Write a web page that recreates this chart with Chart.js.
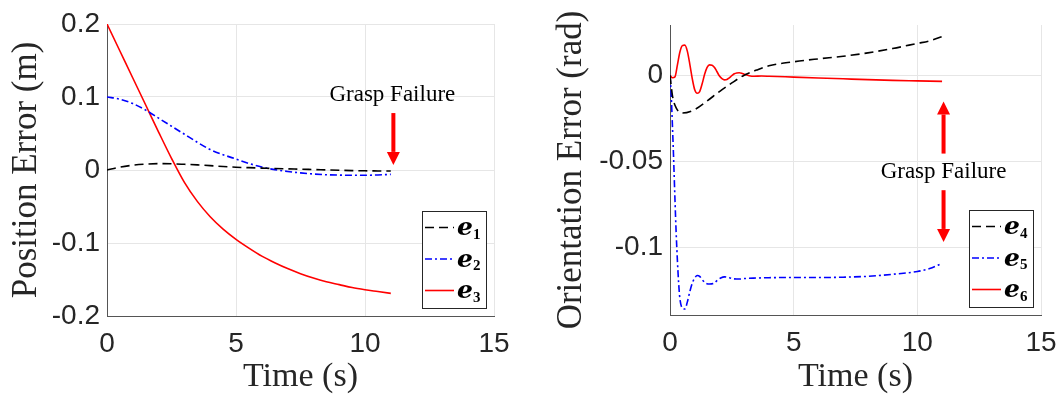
<!DOCTYPE html>
<html>
<head>
<meta charset="utf-8">
<script src="https://cdn.jsdelivr.net/npm/chart.js@4.4.0/dist/chart.umd.min.js"></script>
<style>
  body { margin: 0; background: #fff; overflow: hidden; }
  .panel { position: absolute; top: 0; width: 530px; height: 397px; }
</style>
</head>
<body>
<div class="panel" style="left:0"><canvas id="posChart" width="530" height="397"></canvas></div>
<div class="panel" style="left:530px"><canvas id="oriChart" width="530" height="397"></canvas></div>
<script>
// position errors (m)
const posTime = [0, 0.5, 1, 1.5, 2, 2.5, 3, 3.5, 4, 4.5, 5, 5.5, 6, 6.5, 7, 7.5, 8, 8.5, 9, 9.5, 10, 10.5, 11];
const e1 = [0, 0.004, 0.0065, 0.008, 0.0088, 0.0085, 0.0078, 0.007, 0.006, 0.0048, 0.0038, 0.0032, 0.0026, 0.002, 0.0015, 0.0011, 0.0006, 0.0001, -0.0004, -0.0008, -0.0011, -0.0013, -0.0014];
const e2 = [0.1, 0.097, 0.091, 0.082, 0.071, 0.06, 0.049, 0.038, 0.028, 0.021, 0.015, 0.009, 0.004, 0.0005, -0.002, -0.004, -0.0055, -0.0065, -0.007, -0.0072, -0.0072, -0.0068, -0.006];
const e3 = [0.2, 0.163, 0.126, 0.089, 0.052, 0.016, -0.017, -0.043, -0.064, -0.081, -0.095, -0.107, -0.118, -0.127, -0.135, -0.142, -0.148, -0.153, -0.157, -0.161, -0.164, -0.1665, -0.169];

// orientation errors (rad)
const e4Time = [0, 0.1, 0.25, 0.5, 1, 1.5, 2, 2.5, 3, 3.5, 4, 5, 6, 7, 8, 9, 10, 10.5, 11];
const e4 = [0, -0.012, -0.019, -0.022, -0.02, -0.015, -0.0095, -0.0045, 0, 0.003, 0.0055, 0.0078, 0.0095, 0.011, 0.013, 0.0155, 0.0185, 0.02, 0.0225];
const e5Time = [0, 0.05, 0.1, 0.15, 0.2, 0.25, 0.3, 0.35, 0.4, 0.5, 0.6, 0.7, 0.8, 0.9, 1.0, 1.1, 1.2, 1.3, 1.45, 1.6, 1.75, 1.9, 2.05, 2.2, 2.4, 2.6, 2.8, 3, 3.5, 4, 5, 6, 7, 8, 9, 10, 10.5, 11];
const e5 = [0, -0.012, -0.03, -0.05, -0.072, -0.092, -0.108, -0.121, -0.13, -0.1355, -0.136, -0.132, -0.126, -0.121, -0.118, -0.1165, -0.117, -0.119, -0.121, -0.1215, -0.1212, -0.1195, -0.118, -0.1173, -0.1178, -0.1185, -0.1186, -0.1183, -0.118, -0.1178, -0.1177, -0.1177, -0.1175, -0.117, -0.1158, -0.1142, -0.1125, -0.1095];
const e6Time = [0, 0.1, 0.2, 0.3, 0.4, 0.5, 0.6, 0.7, 0.8, 0.9, 1.0, 1.1, 1.2, 1.3, 1.4, 1.5, 1.6, 1.7, 1.8, 1.9, 2.0, 2.1, 2.2, 2.3, 2.4, 2.5, 2.6, 2.7, 2.8, 2.9, 3.0, 3.2, 3.4, 3.7, 4, 5, 6, 7, 8, 9, 10, 11];
const e6 = [0, -0.0015, -0.001, 0.006, 0.0135, 0.0172, 0.0175, 0.014, 0.0065, -0.002, -0.0085, -0.0105, -0.0095, -0.005, 0.0005, 0.0045, 0.006, 0.0058, 0.0045, 0.002, -0.0005, -0.002, -0.0027, -0.0025, -0.0015, -0.0003, 0.0008, 0.0013, 0.0014, 0.0011, 0.0005, -0.0003, -0.0006, -0.0005, -0.0006, -0.0011, -0.0016, -0.0021, -0.0026, -0.003, -0.0033, -0.0036];

const TEXT = '#262626';
const toPoints = (t, v) => t.map((x, i) => ({ x: x, y: v[i] }));

function series(sub, t, v, color, dash) {
  return {
    sub: sub,
    data: toPoints(t, v),
    borderColor: color,
    borderWidth: 1.6,
    borderDash: dash,
    pointRadius: 0,
    fill: false,
    cubicInterpolationMode: 'monotone'
  };
}

// legend with math-style labels e_i
const mathLegend = {
  id: 'mathLegend',
  afterDraw(chart) {
    const { ctx, chartArea } = chart;
    const w = 64, h = 97;
    const x0 = Math.round(chartArea.right - 8 - w);
    const y0 = Math.round(chartArea.bottom - 8 - h);
    ctx.save();
    ctx.fillStyle = '#fff';
    ctx.fillRect(x0, y0, w, h);
    ctx.strokeStyle = TEXT;
    ctx.lineWidth = 1;
    ctx.strokeRect(x0 + 0.5, y0 + 0.5, w, h);
    chart.data.datasets.forEach((ds, i) => {
      const cy = y0 + 16.5 + i * 31.5;
      ctx.setLineDash(ds.borderDash || []);
      ctx.strokeStyle = ds.borderColor;
      ctx.lineWidth = ds.borderWidth;
      ctx.beginPath();
      ctx.moveTo(x0 + 3, cy);
      ctx.lineTo(x0 + 32, cy);
      ctx.stroke();
      ctx.setLineDash([]);
      ctx.fillStyle = '#000';
      ctx.textBaseline = 'alphabetic';
      ctx.textAlign = 'left';
      ctx.font = 'italic bold 25px "DejaVu Serif"';
      ctx.fillText('e', x0 + 35, cy + 7.5);
      const ew = ctx.measureText('e').width;
      ctx.font = 'bold 15px "Liberation Serif"';
      ctx.fillText(ds.sub, x0 + 35 + ew, cy + 11);
    });
    ctx.restore();
  }
};

// "Grasp Failure" note with red arrows, placed in data units
const failureNote = {
  id: 'failureNote',
  afterDatasetsDraw(chart, args, opts) {
    const { ctx, scales: { x, y } } = chart;
    ctx.save();
    ctx.fillStyle = '#ff0000';
    (opts.arrows || []).forEach(a => {
      const px = x.getPixelForValue(a.x);
      const p1 = y.getPixelForValue(a.from);
      const p2 = y.getPixelForValue(a.to);
      const dir = Math.sign(p2 - p1);
      const head = 13, half = 6.5;
      const base = p2 - dir * head;
      ctx.fillRect(px - 2, Math.min(p1, base), 4, Math.abs(base - p1));
      ctx.beginPath();
      ctx.moveTo(px - half, base);
      ctx.lineTo(px + half, base);
      ctx.lineTo(px, p2);
      ctx.closePath();
      ctx.fill();
    });
    ctx.fillStyle = '#000';
    ctx.font = '23px "Liberation Serif"';
    ctx.textAlign = 'center';
    ctx.textBaseline = 'middle';
    ctx.fillText(opts.text, x.getPixelForValue(opts.x), y.getPixelForValue(opts.y));
    ctx.restore();
  }
};

function makeChart(id, datasets, cfg) {
  return new Chart(document.getElementById(id), {
    type: 'line',
    data: { datasets: datasets },
    plugins: [failureNote, mathLegend],
    options: {
      responsive: false,
      animation: false,
      devicePixelRatio: 1,
      layout: { padding: { top: cfg.top, right: cfg.right, left: 0, bottom: 0 } },
      plugins: {
        legend: { display: false },
        tooltip: { enabled: false },
        failureNote: cfg.note
      },
      scales: {
        x: {
          type: 'linear',
          min: 0, max: 15,
          ticks: { stepSize: 5, padding: 11, color: TEXT, font: { family: '"Liberation Sans"', size: 28 } },
          grid: { color: '#e6e6e6', drawTicks: false },
          border: { color: '#555', width: 1 },
          title: { display: true, text: 'Time (s)', color: TEXT, padding: { top: 0, bottom: 0 }, font: { family: '"Liberation Serif"', size: 34 } },
          afterFit: s => {
            s.height = cfg.xHeight;
            // the end labels may overhang; the plot edges are set by layout padding
            s.paddingLeft = 0;
            s.paddingRight = 0;
          }
        },
        y: {
          min: cfg.yMin, max: cfg.yMax,
          ticks: {
            stepSize: cfg.yStep, includeBounds: false, padding: 7, color: TEXT,
            font: { family: '"Liberation Sans"', size: 28 },
            callback: v => String(parseFloat(v.toFixed(3)))
          },
          grid: { color: '#e6e6e6', drawTicks: false },
          border: { color: '#555', width: 1 },
          title: { display: true, text: cfg.yTitle, color: TEXT, padding: { top: cfg.titlePad, bottom: 0 }, font: { family: '"Liberation Serif"', size: 35 } },
          afterFit: s => {
            s.width = cfg.yWidth;
            s.paddingTop = 0;
            s.paddingBottom = 0;
          }
        }
      }
    }
  });
}

makeChart('posChart', [
  series('1', posTime, e1, '#000000', [9, 5]),
  series('2', posTime, e2, '#0000ff', [7, 3, 2, 3]),
  series('3', posTime, e3, '#ff0000', [])
], {
  top: 24, right: 36, xHeight: 81, yWidth: 107, titlePad: 6,
  yMin: -0.2, yMax: 0.2, yStep: 0.1, yTitle: 'Position Error (m)',
  note: { text: 'Grasp Failure', x: 11.06, y: 0.103, arrows: [{ x: 11.1, from: 0.078, to: 0.007 }] }
});

makeChart('oriChart', [
  series('4', e4Time, e4, '#000000', [9, 5]),
  series('5', e5Time, e5, '#0000ff', [7, 3, 2, 3]),
  series('6', e6Time, e6, '#ff0000', [])
], {
  top: 25, right: 19, xHeight: 82, yWidth: 140, titlePad: 21,
  yMin: -0.1395, yMax: 0.0292, yStep: 0.05, yTitle: 'Orientation Error (rad)',
  note: {
    text: 'Grasp Failure', x: 11.06, y: -0.056,
    arrows: [{ x: 11.06, from: -0.0456, to: -0.0153 }, { x: 11.06, from: -0.0669, to: -0.097 }]
  }
});
</script>
</body>
</html>
